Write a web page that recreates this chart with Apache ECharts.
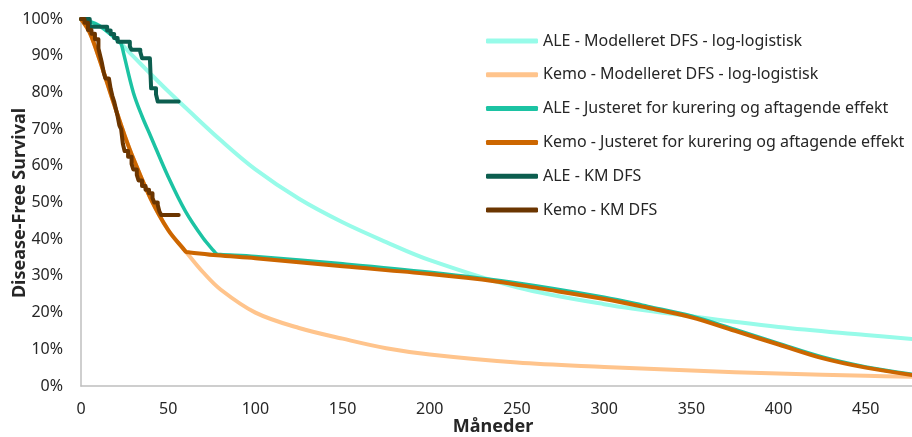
<!DOCTYPE html>
<html>
<head>
<meta charset="utf-8">
<script src="https://cdn.jsdelivr.net/npm/echarts@6/dist/echarts.min.js"></script>
<style>
html,body{margin:0;padding:0;background:#fff;}
#chart{width:912px;height:437px;}
</style>
</head>
<body>
<div id="chart"></div>
<script>
// Series names (legend order)
const seriesNames = [
  'ALE - Modelleret DFS - log-logistisk',
  'Kemo - Modelleret DFS - log-logistisk',
  'ALE - Justeret for kurering og aftagende effekt',
  'Kemo - Justeret for kurering og aftagende effekt',
  'ALE - KM DFS',
  'Kemo - KM DFS'
];

// Axis ticks
const xTicks = [0, 50, 100, 150, 200, 250, 300, 350, 400, 450];
const yTicks = [0, 10, 20, 30, 40, 50, 60, 70, 80, 90, 100];

// ALE - modelled DFS (log-logistic)
const aleModelX = [0, 10, 20, 30, 40, 50, 60, 80, 100, 125, 150, 175, 200, 250, 300, 350, 400, 450, 476.5];
const aleModelY = [100, 98.3, 94.6, 89.8, 85.0, 80.3, 75.8, 67.0, 59.0, 51.0, 44.6, 39.2, 34.3, 26.9, 22.3, 19.0, 16.1, 13.9, 12.8];

// Kemo - modelled DFS (log-logistic)
const kemoModelX = [0, 5, 10, 15, 20, 25, 30, 40, 50, 60.5, 70, 80, 100, 125, 150, 175, 200, 250, 300, 350, 400, 450, 476.5];
const kemoModelY = [100, 96.3, 89.8, 82.6, 75.3, 68.3, 62.0, 51.0, 42.5, 36.4, 31.0, 26.3, 20.0, 15.8, 12.9, 10.3, 8.6, 6.4, 5.2, 4.2, 3.4, 2.8, 2.5];

// ALE - adjusted for cure and waning effect
const aleAdjX = [0, 10, 20, 22, 23, 24.5, 30, 35, 40, 50, 60, 70, 76, 78, 80, 100, 150, 200, 250, 300, 325, 350, 375, 400, 425, 450, 476.5];
const aleAdjY = [100, 98.3, 94.6, 93.7, 93.3, 90.5, 80.0, 73.5, 68.0, 57.0, 47.5, 40.3, 36.9, 35.9, 35.8, 35.3, 33.3, 31.0, 28.1, 24.2, 21.7, 19.1, 15.4, 11.6, 7.9, 5.2, 3.2];

// Kemo - adjusted for cure and waning effect
const kemoAdjX = [0, 5, 10, 15, 20, 25, 30, 40, 50, 58.5, 60.5, 62.5, 78, 100, 150, 200, 238, 263, 300, 325, 350, 375, 400, 425, 450, 476.5];
const kemoAdjY = [100, 96.3, 89.8, 82.6, 75.3, 68.3, 62.0, 51.0, 42.5, 37.5, 36.5, 36.4, 35.6, 34.8, 32.6, 30.5, 28.5, 26.6, 23.7, 21.3, 18.7, 15.0, 11.3, 7.6, 5.0, 3.0];

// ALE - Kaplan-Meier DFS (step)
const aleKmX = [0, 5, 15, 17, 19, 21, 28, 29, 34, 35, 39.5, 40.2, 43, 44, 56];
const aleKmY = [100, 97.9, 96.9, 95.9, 94.8, 93.8, 92.5, 91.6, 91.0, 89.3, 88.8, 81.1, 79.5, 77.5, 77.5];

// Kemo - Kaplan-Meier DFS (step)
const kemoKmX = [0, 2, 4, 6, 8, 10, 11, 12, 13, 14, 16, 17, 18, 19, 20, 21, 22, 23, 24, 25, 27, 29, 30, 32, 33, 35, 37, 39, 41, 42, 44, 45, 46, 56];
const kemoKmY = [100, 99, 97, 96, 94.5, 92, 90, 88, 85.5, 83.8, 83.4, 81, 79, 77.5, 75.5, 73.5, 71, 70, 66, 64, 62.5, 60.5, 59, 57.5, 56, 54.5, 53.5, 52.5, 51.2, 50, 49.3, 47.5, 46.6, 46.6];

const colors = ['#97FBE9', '#FFC48C', '#1CC3A3', '#CC6600', '#0C5E4F', '#6B3500'];

function pairs(xs, ys) { return xs.map((x, i) => [x, ys[i]]); }

const seriesData = [
  pairs(aleModelX, aleModelY),
  pairs(kemoModelX, kemoModelY),
  pairs(aleAdjX, aleAdjY),
  pairs(kemoAdjX, kemoAdjY),
  pairs(aleKmX, aleKmY),
  pairs(kemoKmX, kemoKmY)
];
const widths = [4, 4, 3.5, 4, 4, 4];

const FONT = '"Noto Sans"';
const chart = echarts.init(document.getElementById('chart'), null, {renderer: 'canvas'});
chart.setOption({
  animation: false,
  backgroundColor: '#ffffff',
  grid: {left: 81, right: 0, top: 19, bottom: 51, containLabel: false},
  legend: {
    orient: 'vertical',
    left: 481,
    top: 27,
    icon: 'roundRect',
    itemWidth: 52,
    itemHeight: 5,
    itemGap: 15.8,
    textStyle: {fontFamily: FONT, fontSize: 16, color: '#262626', lineHeight: 18},
    data: seriesNames
  },
  xAxis: {
    type: 'value',
    min: 0,
    max: 476.5,
    interval: 50,
    axisLine: {show: true, lineStyle: {color: '#BFBFBF', width: 1.5}},
    axisTick: {show: false},
    splitLine: {show: false},
    axisLabel: {
      fontFamily: FONT, fontSize: 16, color: '#262626', margin: 15, showMaxLabel: false,
      formatter: v => (xTicks.indexOf(v) >= 0 ? String(v) : '')
    }
  },
  yAxis: {
    type: 'value',
    min: 0,
    max: 100,
    interval: 10,
    axisLine: {show: true, lineStyle: {color: '#BFBFBF', width: 1.5}},
    axisTick: {show: false},
    splitLine: {show: false},
    axisLabel: {
      fontFamily: FONT, fontSize: 16, color: '#262626', margin: 18,
      formatter: v => (yTicks.indexOf(v) >= 0 ? v + '%' : '')
    }
  },
  graphic: [{
    type: 'text',
    x: 20, y: 203,
    rotation: Math.PI / 2,
    style: {
      text: 'Disease-Free Survival',
      font: 'bold 18px "Noto Sans"',
      fill: '#262626',
      textAlign: 'center',
      textVerticalAlign: 'middle'
    }
  }, {
    type: 'text',
    x: 493, y: 427,
    style: {
      text: 'Måneder',
      font: 'bold 18px "Noto Sans"',
      fill: '#262626',
      textAlign: 'center',
      textVerticalAlign: 'middle'
    }
  }],
  series: seriesNames.map((name, i) => ({
    name: name,
    type: 'line',
    data: seriesData[i],
    showSymbol: false,
    symbol: 'none',
    smooth: i < 4 ? 0.35 : false,
    step: i >= 4 ? 'end' : false,
    color: colors[i],
    lineStyle: {color: colors[i], width: widths[i], cap: 'round', join: 'round'},
    itemStyle: {color: colors[i]},
    z: 2 + i
  }))
});
</script>
</body>
</html>
